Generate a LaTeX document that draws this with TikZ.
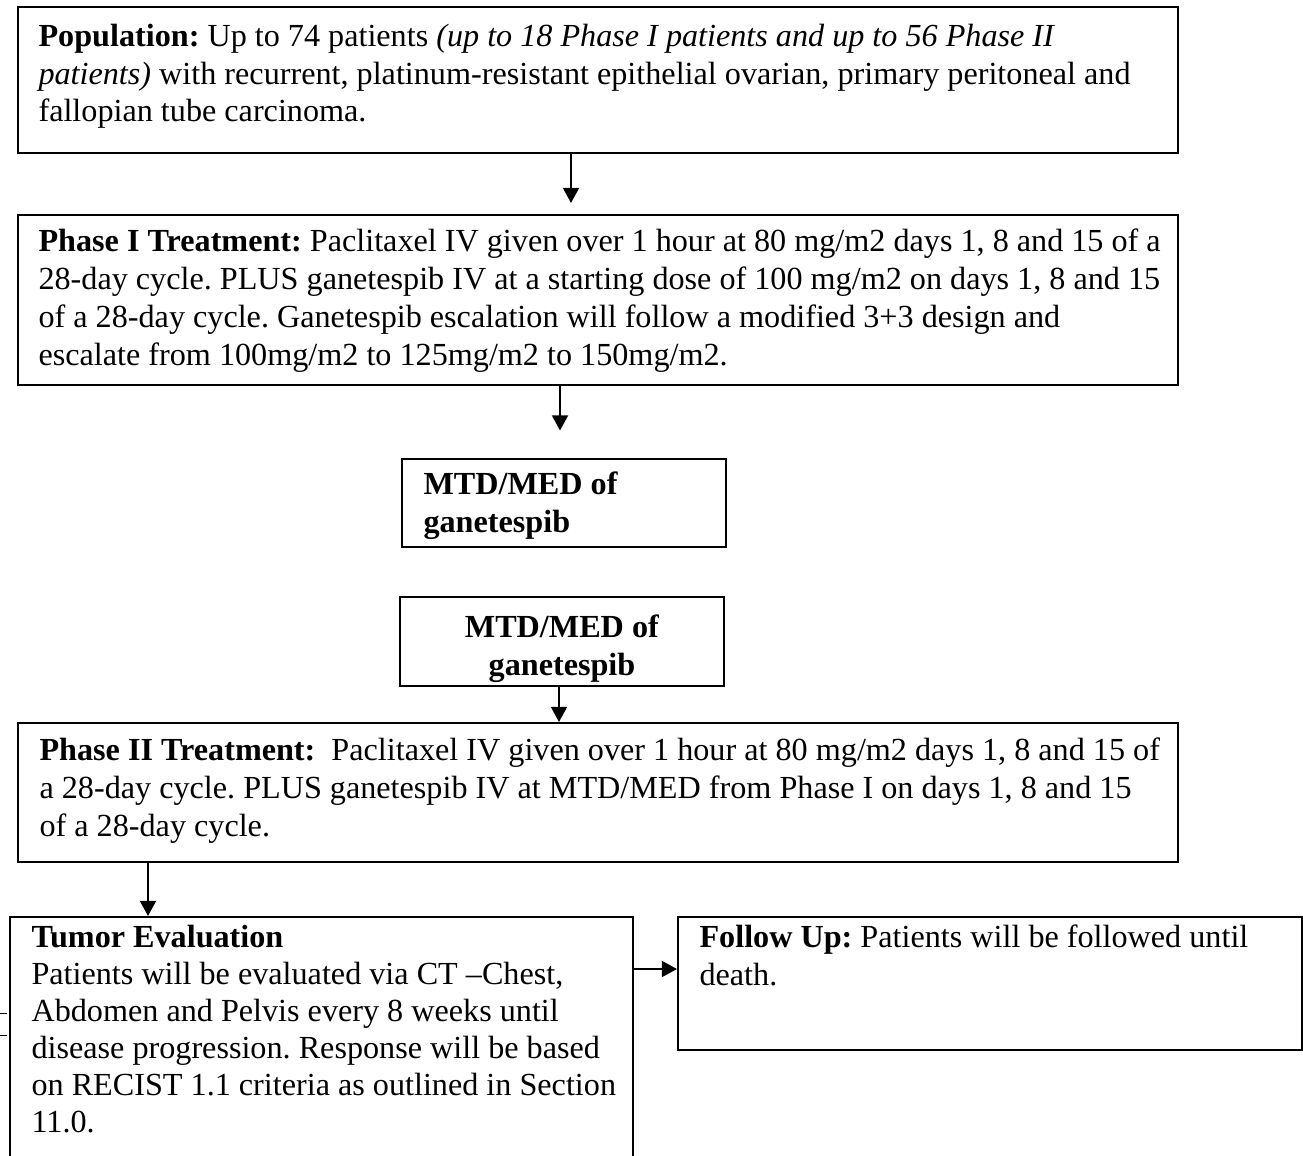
\documentclass[tikz,border=0pt]{standalone}
\usepackage{fontspec}
\setmainfont{Liberation Serif}
\usetikzlibrary{arrows.meta,fit}
\begin{document}
\frenchspacing
\begin{tikzpicture}[x=0.3636pt,y=-0.3636pt,
  box/.style={draw,line width=0.75pt,inner sep=0pt,fit={#1}},
  txt/.style={inner sep=0pt,anchor=base west,align=left,font=\fontsize{11.7}{13.8}\selectfont},
  arr/.style={line width=0.75pt,-{Triangle[length=5.5pt,width=5.8pt]}}]
\useasboundingbox (0,0) rectangle (1303,1155);
% boxes
\node[box={(18,7) (1178,153)}] (pop) {};
\node[box={(18,215) (1178,385)}] (ph1) {};
\node[box={(402,459) (726,547)}] (mtd1) {};
\node[box={(400,597) (724,686)}] (mtd2) {};
\node[box={(18,723) (1178,862)}] (ph2) {};
\node[box={(10,917) (633,1170)}] (tum) {};
\node[box={(678,917) (1302,1050)}] (fol) {};
% texts (anchored at the baseline of their last line)
\node[txt] (tpop) at (38,122) {\textbf{Population:} Up to 74 patients \textit{(up to 18 Phase I patients and up to 56 Phase II}\\
\textit{patients)} with recurrent, platinum-resistant epithelial ovarian, primary peritoneal and\\
fallopian tube carcinoma.};
\node[txt] (tph1) at (38,365) {\textbf{Phase I Treatment:} Paclitaxel IV given over 1 hour at 80 mg/m2 days 1, 8 and 15 of a\\
28-day cycle. PLUS ganetespib IV at a starting dose of 100 mg/m2 on days 1, 8 and 15\\
of a 28-day cycle. Ganetespib escalation will follow a modified 3+3 design and\\
escalate from 100mg/m2 to 125mg/m2 to 150mg/m2.};
\node[txt] (tmtd1) at (423,532) {\textbf{MTD/MED of}\\\textbf{ganetespib}};
\node[txt,anchor=base,align=center] (tmtd2) at (562,675) {\textbf{MTD/MED of}\\\textbf{ganetespib}};
\node[txt] (tph2) at (39,836) {\textbf{Phase II Treatment:}\ \ Paclitaxel IV given over 1 hour at 80 mg/m2 days 1, 8 and 15 of\\
a 28-day cycle. PLUS ganetespib IV at MTD/MED from Phase I on days 1, 8 and 15\\
of a 28-day cycle.};
\node[txt,font=\fontsize{11.7}{13.4}\selectfont] (ttum) at (31,1132) {\textbf{Tumor Evaluation}\\
Patients will be evaluated via CT –Chest,\\
Abdomen and Pelvis every 8 weeks until\\
disease progression. Response will be based\\
on RECIST 1.1 criteria as outlined in Section\\
11.0.};
\node[txt] (tfol) at (699,985) {\textbf{Follow Up:} Patients will be followed until\\
death.};
% connectors
\draw[arr,shorten >=4pt] (571,0 |- pop.south) -- (571,0 |- ph1.north);
\draw[arr,shorten >=10pt] (560,0 |- ph1.south) -- (560,0 |- mtd1.north);
\draw[arr] (559,0 |- mtd2.south) -- (559,0 |- ph2.north);
\draw[arr] (148,0 |- ph2.south) -- (148,0 |- tum.north);
\draw[arr] (tum.east |- 0,969) -- (fol.west |- 0,969);
% small stray ticks at the left edge
\draw[line width=0.3pt] (0,1013) -- (7,1013);
\draw[line width=0.3pt] (0,1035) -- (7,1035);
\end{tikzpicture}
\end{document}
